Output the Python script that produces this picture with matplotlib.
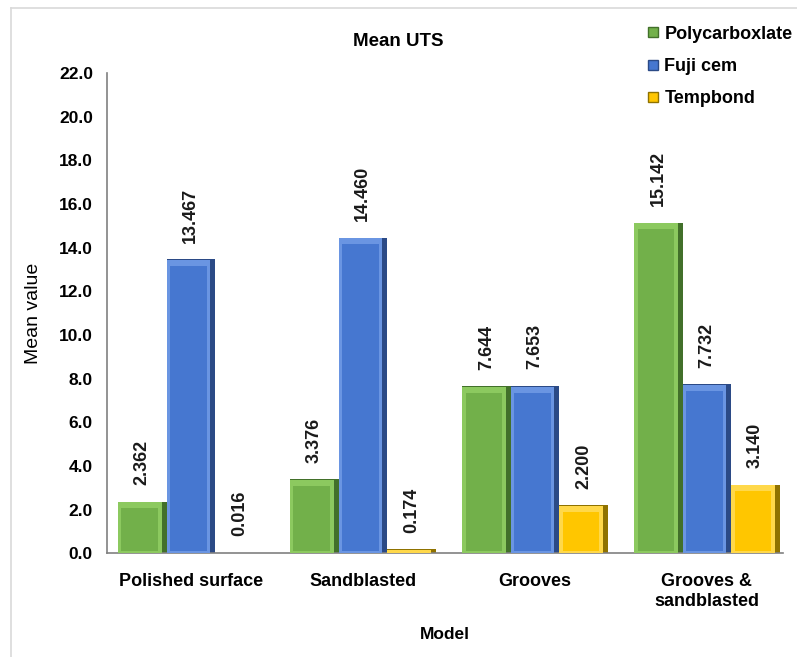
import matplotlib
matplotlib.use("Agg")
import matplotlib.pyplot as plt
import numpy as np
from matplotlib.lines import Line2D

plt.rcParams['font.family'] = ['Liberation Sans', 'DejaVu Sans']

categories = ["Polished surface", "Sandblasted", "Grooves", "Grooves &\nsandblasted"]
series_names = ["Polycarboxlate", "Fuji cem", "Tempbond"]
polycarboxlate = [2.362, 3.376, 7.644, 15.142]
fuji_cem = [13.467, 14.460, 7.653, 7.732]
tempbond = [0.016, 0.174, 2.200, 3.140]
yticks = [0, 2, 4, 6, 8, 10, 12, 14, 16, 18, 20, 22]

series = [polycarboxlate, fuji_cem, tempbond]
face = ["#72b04a", "#4677d0", "#ffc600"]
dark = ["#42702a", "#2b4a86", "#8f7200"]
light = ["#8cc95f", "#6a95e2", "#ffd84a"]

fig = plt.figure(figsize=(7.97, 6.57), dpi=100)
ax = fig.add_axes([0.134, 0.158, 0.848, 0.731])

x = np.arange(len(categories))
w = 0.282
offs = [-0.282, 0.0, 0.282]
for vals, off, fc, dc, lc, name in zip(series, offs, face, dark, light, series_names):
    xs = x + off
    vals = np.array(vals)
    ax.bar(xs, vals, width=w, color=dc, linewidth=0, zorder=2, label=name)
    ax.bar(xs - w / 2, np.maximum(vals - 0.03, 0), width=w * 0.9, align="edge",
           color=lc, linewidth=0, zorder=3)
    ax.bar(xs - w / 2 + w * 0.07, np.maximum(vals - 0.42, 0), bottom=0.12,
           width=w * 0.76, align="edge", color=fc, linewidth=0, zorder=4)
    for xi, v in zip(xs, vals):
        ax.annotate(f"{v:.3f}", (xi, v), xytext=(0, 12), textcoords="offset points",
                    rotation=90, ha="center", va="bottom", fontsize=13,
                    fontweight="bold", color="#1a1a1a")

ax.set_xlim(-0.488, 3.44)
ax.set_ylim(0, 22)
ax.set_yticks(yticks)
ax.set_yticklabels([f"{t:.1f}" for t in yticks], fontsize=12.5, fontweight="bold")
ax.set_xticks(x)
ax.set_xticklabels(categories, fontsize=13, fontweight="bold", linespacing=1.25)
ax.tick_params(axis="y", length=0, pad=10)
ax.tick_params(axis="x", length=0, pad=14)
for s in ["top", "right"]:
    ax.spines[s].set_visible(False)
for s in ["left", "bottom"]:
    ax.spines[s].set_color("#808080")
    ax.spines[s].set_linewidth(1.2)

ax.set_ylabel("Mean value", fontsize=14, labelpad=12)
ax.set_xlabel("Model", fontsize=12.5, fontweight="bold", labelpad=12)
fig.text(0.50, 0.937, "Mean UTS", ha="center", va="center", fontsize=13.5, fontweight="bold")

handles = [Line2D([], [], marker="s", linestyle="none", markersize=7,
                  markerfacecolor=fc, markeredgecolor=dc) for fc, dc in zip(face, dark)]
leg = fig.legend(handles, series_names, loc="upper left", bbox_to_anchor=(0.804, 0.972),
                 frameon=False, prop={"size": 13, "weight": "bold"},
                 handlelength=0.6, handletextpad=0.3, labelspacing=0.85, borderaxespad=0)

fig.add_artist(Line2D([0.014, 0.014], [0.0, 0.988], color="#d9d9d9", linewidth=1.2, transform=fig.transFigure))
fig.add_artist(Line2D([0.014, 1.0], [0.988, 0.988], color="#d9d9d9", linewidth=1.2, transform=fig.transFigure))

fig.savefig("out.png", dpi=100)
